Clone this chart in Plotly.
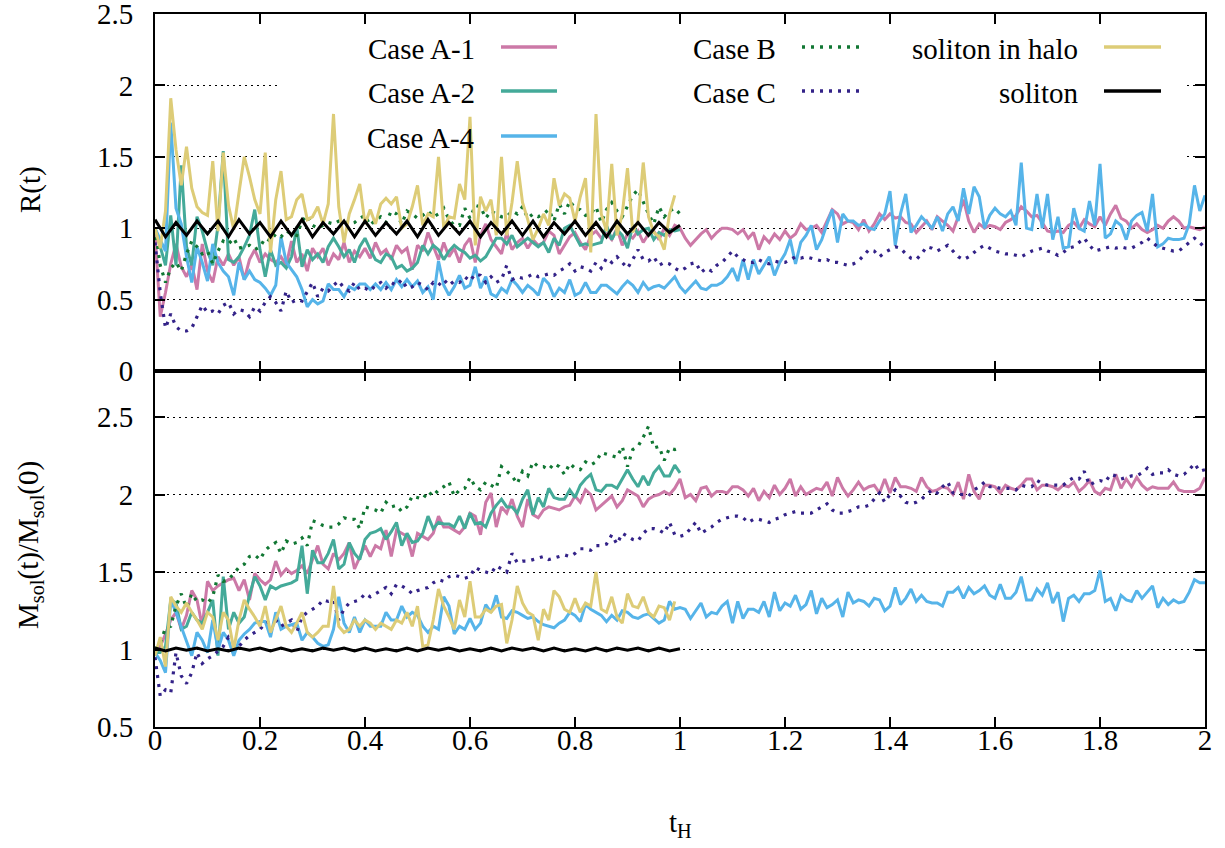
import plotly.graph_objects as go

# ---------------- data ----------------
STEP = 0.01          # sampling step of the simulation outputs
SOL_STEP = 0.02      # sampling step of the isolated soliton run

series_names = ["Case A-1", "Case A-2", "Case A-4", "Case B", "Case C",
                "soliton in halo", "soliton"]

# Top panel: R(t)
R_A1 = [0.97,0.38,0.55,0.75,0.89,0.73,0.66,0.75,0.57,0.89,
        0.70,0.62,0.80,0.74,0.82,0.74,0.80,0.64,0.78,0.85,
        0.76,0.82,0.78,0.76,0.80,0.74,0.91,0.76,0.82,0.70,
        0.86,0.80,0.86,0.74,0.82,0.78,0.90,0.76,0.84,0.80,
        0.86,0.79,0.90,0.82,0.85,0.78,0.88,0.83,0.86,0.71,
        0.88,0.84,0.97,0.87,0.78,0.90,0.80,0.86,0.76,0.88,
        0.93,0.76,0.95,1.03,0.92,0.87,0.82,0.97,0.85,0.90,
        0.93,0.86,0.92,0.88,0.90,0.98,0.95,0.82,0.88,0.94,
        0.97,0.90,0.85,0.95,0.98,0.93,0.96,0.92,1.00,0.88,
        0.96,0.93,0.98,0.90,0.96,0.98,0.92,1.00,0.95,1.02,
        1.00,0.93,0.88,0.92,0.96,0.99,0.93,0.97,1.00,1.00,
        0.99,0.96,0.99,0.93,0.97,0.85,0.94,0.90,0.96,0.92,
        0.98,0.93,0.96,1.03,0.99,1.00,1.02,0.97,1.05,1.13,
        1.10,1.03,1.05,1.04,0.99,1.06,0.98,1.03,1.10,1.06,
        1.10,1.07,1.08,1.04,1.03,0.97,1.01,1.05,0.99,1.08,
        1.05,1.02,0.98,1.08,1.20,1.05,0.97,1.03,1.00,1.02,
        1.01,0.99,1.04,1.06,1.09,1.15,1.12,1.08,1.09,1.04,
        0.98,0.97,0.98,0.97,1.02,1.04,1.00,1.06,1.03,1.01,
        1.08,1.02,1.10,1.16,1.07,1.05,1.00,1.03,0.99,0.97,
        0.99,1.02,1.00,1.05,1.08,1.05,1.00,1.01,1.00,0.99,
        1.01]
R_A2 = [1.00,0.87,0.74,1.09,0.74,1.44,0.87,0.74,1.08,0.98,
        0.84,0.74,1.02,1.54,0.78,0.76,0.80,0.87,0.95,1.13,
        0.85,0.66,0.85,0.74,0.76,0.72,0.80,1.01,0.73,0.85,
        0.78,0.82,0.76,0.87,0.93,0.87,0.80,0.85,0.76,0.87,
        0.93,0.85,0.78,0.76,0.82,0.80,0.72,0.74,0.70,0.72,
        0.76,0.88,0.82,0.88,0.85,0.78,0.84,0.88,0.85,0.83,
        0.79,0.81,0.77,0.80,0.87,0.93,0.93,0.89,0.95,0.87,
        0.90,0.93,0.90,0.87,0.90,0.83,0.93,0.88,1.00,1.02,
        0.95,0.88,0.89,0.88,0.89,0.90,1.02,0.92,0.99,0.95,
        0.86,1.02,0.96,0.99,1.00,0.92,0.97,0.95,0.99,0.98,
        0.99]
R_A4 = [1.00,0.92,0.84,1.74,1.14,1.03,0.80,0.62,0.87,0.76,
        0.63,0.89,0.76,0.70,0.66,0.53,0.76,0.64,0.70,0.64,
        0.62,0.58,0.53,0.60,0.94,0.76,0.71,0.66,0.57,0.45,
        0.50,0.47,0.49,0.61,0.57,0.57,0.52,0.59,0.57,0.61,
        0.61,0.57,0.61,0.57,0.62,0.57,0.64,0.59,0.64,0.59,
        0.63,0.55,0.59,0.50,0.77,0.60,0.53,0.59,0.67,0.58,
        0.60,0.73,0.58,0.66,0.54,0.52,0.58,0.55,0.64,0.60,
        0.55,0.60,0.57,0.53,0.65,0.61,0.52,0.58,0.55,0.64,
        0.53,0.55,0.62,0.55,0.55,0.60,0.60,0.57,0.54,0.59,
        0.63,0.60,0.55,0.62,0.57,0.59,0.60,0.58,0.62,0.66,
        0.59,0.55,0.59,0.63,0.58,0.57,0.60,0.60,0.62,0.66,
        0.72,0.63,0.78,0.64,0.78,0.68,0.74,0.80,0.67,0.76,
        0.82,0.92,0.75,0.90,0.95,1.02,0.85,0.92,1.03,1.13,
        0.90,1.10,1.05,1.05,1.02,1.03,1.00,0.99,1.05,1.10,
        1.26,0.88,1.10,1.24,0.97,1.02,1.08,1.04,1.00,1.08,
        0.98,1.10,1.15,1.05,1.28,1.10,1.29,1.22,1.00,1.09,
        1.14,1.10,1.08,1.12,1.02,1.46,1.00,0.99,1.24,1.00,
        1.24,0.92,1.08,0.86,0.87,1.14,1.00,0.98,1.19,1.02,
        1.45,0.93,0.96,1.05,1.02,0.92,1.05,1.09,1.11,0.98,
        1.24,0.87,0.89,0.93,0.92,0.92,0.93,1.03,1.30,1.12,
        1.23]
R_B = [1.00,0.74,0.62,0.72,0.76,0.70,0.82,0.91,0.87,0.82,
       0.84,0.75,0.84,0.91,0.89,0.93,0.86,0.87,0.88,0.85,
       0.87,0.93,0.91,0.96,0.94,0.98,0.96,0.95,1.05,1.09,
       1.02,1.00,1.02,1.04,1.03,1.05,1.05,1.03,1.04,1.07,
       1.09,1.02,1.06,1.08,1.04,1.12,1.10,1.03,1.12,1.10,
       1.07,1.09,1.12,1.08,1.10,1.14,1.06,1.02,1.02,1.14,
       1.07,1.16,1.15,1.07,1.12,1.10,1.08,1.08,1.12,1.10,
       1.15,1.07,1.10,1.08,1.10,1.13,1.05,1.17,1.10,1.19,
       1.14,1.13,1.09,1.10,1.15,1.04,1.13,1.18,1.12,1.08,
       1.15,1.23,1.27,1.18,1.10,1.03,1.15,1.08,1.12,1.14,
       1.10]
R_C = [0.90,0.55,0.30,0.40,0.31,0.28,0.28,0.30,0.38,0.46,
       0.41,0.42,0.40,0.46,0.48,0.40,0.43,0.42,0.38,0.45,
       0.42,0.48,0.52,0.48,0.42,0.56,0.48,0.50,0.49,0.55,
       0.62,0.52,0.58,0.56,0.60,0.63,0.58,0.56,0.62,0.57,
       0.58,0.56,0.60,0.62,0.58,0.62,0.60,0.64,0.58,0.59,
       0.62,0.60,0.57,0.62,0.60,0.64,0.60,0.63,0.62,0.66,
       0.63,0.68,0.67,0.62,0.66,0.62,0.64,0.74,0.64,0.66,
       0.65,0.66,0.68,0.66,0.67,0.68,0.67,0.70,0.72,0.75,
       0.70,0.73,0.72,0.70,0.76,0.72,0.79,0.76,0.80,0.76,
       0.72,0.78,0.85,0.78,0.77,0.80,0.74,0.76,0.75,0.72,
       0.70,0.72,0.75,0.76,0.69,0.72,0.70,0.74,0.76,0.80,
       0.84,0.80,0.78,0.76,0.76,0.78,0.76,0.75,0.77,0.76,
       0.76,0.78,0.80,0.79,0.80,0.79,0.78,0.77,0.78,0.76,
       0.76,0.75,0.74,0.75,0.77,0.81,0.85,0.84,0.80,0.83,
       0.85,0.87,0.86,0.82,0.79,0.78,0.82,0.87,0.86,0.84,
       0.86,0.88,0.84,0.80,0.78,0.80,0.83,0.86,0.88,0.86,
       0.84,0.83,0.82,0.82,0.81,0.80,0.82,0.84,0.85,0.86,
       0.84,0.83,0.81,0.83,0.86,0.87,0.90,0.93,0.88,0.84,
       0.85,0.86,0.87,0.86,0.87,0.86,0.86,0.88,0.90,0.93,
       0.90,0.87,0.86,0.85,0.84,0.84,0.87,0.90,0.93,0.90,
       0.86]
R_halo = [1.00,0.86,1.12,1.91,1.55,1.30,1.57,1.28,1.15,1.11,
          1.09,1.47,0.98,1.53,1.16,0.99,1.25,1.50,1.36,1.20,
          1.10,1.53,0.83,1.20,1.40,1.06,1.08,1.20,1.24,1.06,
          1.08,1.15,1.03,1.17,1.80,1.15,0.90,1.10,1.20,1.31,
          1.03,1.13,1.03,1.17,1.21,1.17,1.22,1.00,1.03,1.15,
          1.30,1.02,1.10,1.08,1.50,1.00,1.08,1.07,1.31,1.20,
          1.78,0.88,1.22,1.12,1.20,0.95,1.50,0.95,1.18,1.47,
          1.18,1.06,0.92,1.00,1.10,1.02,1.35,1.16,1.24,1.21,
          1.05,1.22,1.35,0.83,1.80,1.10,0.98,1.45,0.95,1.10,
          1.42,0.97,1.05,1.46,1.08,0.97,0.94,0.85,1.10,1.23]
R_sol = [1.06,0.94,1.04,0.95,1.05,0.96,1.05,0.94,1.06,0.96,
         1.04,0.94,1.05,0.95,1.06,0.94,1.04,0.96,1.05,0.94,
         1.05,0.95,1.04,0.96,1.05,0.94,1.06,0.95,1.04,0.96,
         1.05,0.94,1.04,0.96,1.05,0.95,1.05,0.94,1.04,0.96,
         1.05,0.95,1.04,0.94,1.05,0.96,1.04,0.95,1.04,0.97,
         1.02]

# Bottom panel: M_sol(t)/M_sol(0)
M_A1 = [0.96,1.02,1.10,1.19,1.24,1.13,1.22,1.38,1.32,1.15,
        1.44,1.38,1.41,1.43,1.45,1.46,1.38,1.45,1.32,1.49,
        1.45,1.42,1.45,1.57,1.48,1.52,1.49,1.51,1.54,1.49,
        1.58,1.67,1.55,1.52,1.62,1.58,1.62,1.69,1.52,1.60,
        1.67,1.60,1.67,1.65,1.77,1.60,1.77,1.75,1.73,1.60,
        1.75,1.73,1.71,1.75,1.86,1.79,1.79,1.77,1.75,1.79,
        1.88,1.86,1.74,1.95,2.01,1.79,1.92,1.88,1.97,1.86,
        1.79,1.97,1.87,1.85,1.90,1.92,1.91,1.90,1.92,1.93,
        1.99,1.95,2.03,2.00,1.90,1.93,1.96,1.99,1.92,1.96,
        2.03,2.01,1.99,1.92,1.97,1.99,2.00,2.02,2.00,2.04,
        2.10,1.98,2.00,1.96,2.04,2.05,1.99,2.02,2.02,2.01,
        2.05,2.05,2.03,1.99,2.04,1.96,2.02,1.98,2.06,2.00,
        2.04,2.10,1.99,2.05,2.00,2.02,2.04,2.03,2.08,1.99,
        2.11,2.04,1.99,2.03,2.08,2.03,2.05,2.06,2.01,2.10,
        2.01,2.11,2.05,2.05,2.04,2.02,2.11,2.05,2.02,2.03,
        2.05,2.04,2.00,2.08,1.97,2.13,2.02,1.97,2.06,2.06,
        2.05,2.01,2.06,2.04,2.03,2.06,2.10,2.10,2.03,2.06,
        2.06,2.05,2.03,2.06,2.05,2.08,2.02,2.05,2.09,2.02,
        2.00,2.04,2.03,2.13,2.04,2.10,2.05,2.11,2.06,2.03,
        2.05,2.04,2.04,2.04,2.08,2.03,2.02,2.02,2.02,2.04,
        2.11]
M_A2 = [0.98,0.98,1.02,1.32,1.30,1.13,1.15,1.24,1.19,1.17,
        1.24,1.32,0.96,1.47,1.13,1.24,1.17,1.21,1.35,1.47,
        1.41,1.32,1.41,1.39,1.41,1.42,1.43,1.45,1.67,1.36,
        1.64,1.56,1.56,1.62,1.71,1.52,1.55,1.69,1.62,1.58,
        1.71,1.75,1.76,1.78,1.71,1.76,1.82,1.67,1.75,1.69,
        1.70,1.75,1.86,1.78,1.82,1.81,1.81,1.79,1.86,1.78,
        1.88,1.81,1.82,1.79,1.88,1.93,1.97,1.92,1.92,1.88,
        1.97,2.03,1.87,1.98,1.92,2.04,1.98,1.97,1.97,2.03,
        1.98,2.06,2.10,2.13,2.03,2.02,2.06,2.06,2.04,2.10,
        2.16,2.10,2.05,2.12,2.06,2.14,2.18,2.12,2.12,2.19,
        2.14]
M_A4 = [0.98,0.93,0.85,1.32,1.24,1.15,1.06,0.96,1.11,1.06,
        0.98,1.19,1.00,1.11,1.06,0.96,1.06,1.10,1.13,1.17,
        1.18,1.18,1.08,1.24,1.13,1.15,1.16,1.17,1.06,1.11,
        1.08,1.04,1.02,1.03,1.13,1.34,1.17,1.11,1.21,1.11,
        1.19,1.15,1.15,1.15,1.24,1.19,1.19,1.28,1.21,1.24,
        1.22,1.15,1.11,1.15,1.13,1.34,1.28,1.10,1.15,1.13,
        1.20,1.13,1.17,1.29,1.24,1.35,1.21,1.20,1.25,1.24,
        1.22,1.20,1.21,1.18,1.16,1.15,1.14,1.17,1.19,1.24,
        1.22,1.18,1.29,1.26,1.24,1.22,1.18,1.22,1.19,1.25,
        1.24,1.21,1.20,1.22,1.23,1.20,1.17,1.19,1.31,1.26,
        1.27,1.26,1.20,1.25,1.30,1.21,1.24,1.23,1.28,1.31,
        1.17,1.31,1.20,1.26,1.26,1.24,1.31,1.21,1.37,1.25,
        1.30,1.28,1.35,1.26,1.29,1.38,1.23,1.33,1.27,1.29,
        1.32,1.21,1.37,1.30,1.32,1.31,1.28,1.33,1.32,1.25,
        1.28,1.40,1.29,1.33,1.39,1.31,1.35,1.31,1.30,1.30,
        1.28,1.37,1.37,1.40,1.33,1.40,1.36,1.38,1.41,1.35,
        1.33,1.42,1.33,1.33,1.37,1.47,1.32,1.32,1.39,1.35,
        1.43,1.30,1.37,1.18,1.33,1.35,1.31,1.36,1.36,1.38,
        1.51,1.31,1.33,1.25,1.35,1.32,1.31,1.38,1.33,1.37,
        1.41,1.27,1.33,1.29,1.32,1.30,1.31,1.37,1.45,1.43,
        1.43]
M_B = [1.00,1.04,1.14,1.15,1.28,1.36,1.27,1.36,1.31,1.32,
       1.30,1.34,1.48,1.44,1.45,1.49,1.53,1.55,1.60,1.61,
       1.58,1.64,1.67,1.69,1.62,1.70,1.68,1.69,1.72,1.67,
       1.83,1.82,1.80,1.79,1.79,1.81,1.85,1.84,1.84,1.78,
       1.92,1.91,1.90,1.88,1.95,1.92,1.93,1.89,1.92,1.99,
       1.98,1.97,2.02,1.99,2.03,2.05,2.08,1.99,2.03,2.04,
       2.11,2.05,2.03,2.08,2.06,2.04,2.18,2.15,2.12,2.07,
       2.15,2.12,2.21,2.18,2.18,2.16,2.20,2.18,2.13,2.20,
       2.17,2.16,2.21,2.19,2.21,2.27,2.26,2.25,2.24,2.31,
       2.18,2.29,2.31,2.37,2.44,2.30,2.31,2.22,2.30,2.29,
       2.30]
M_C = [0.95,0.70,0.74,0.72,0.98,0.83,0.78,0.85,0.98,0.91,
       0.94,0.96,0.99,1.02,1.08,1.04,1.02,1.06,1.09,1.11,
       1.13,1.17,1.18,1.19,1.15,1.17,1.19,1.11,1.21,1.24,
       1.26,1.28,1.32,1.31,1.32,1.19,1.26,1.30,1.31,1.32,
       1.36,1.34,1.36,1.38,1.40,1.36,1.42,1.41,1.39,1.36,
       1.38,1.39,1.40,1.43,1.45,1.44,1.47,1.48,1.47,1.46,
       1.47,1.53,1.51,1.50,1.49,1.54,1.52,1.50,1.62,1.56,
       1.57,1.57,1.58,1.59,1.60,1.58,1.59,1.60,1.61,1.60,
       1.62,1.65,1.65,1.64,1.67,1.67,1.68,1.74,1.68,1.75,
       1.73,1.71,1.70,1.75,1.78,1.78,1.77,1.75,1.82,1.74,
       1.73,1.74,1.78,1.82,1.75,1.77,1.79,1.82,1.84,1.85,
       1.86,1.86,1.85,1.82,1.84,1.84,1.83,1.82,1.84,1.85,
       1.87,1.88,1.89,1.88,1.88,1.88,1.90,1.92,1.94,1.90,
       1.88,1.88,1.89,1.90,1.92,1.92,1.93,1.97,2.01,1.95,
       2.00,2.03,1.99,1.95,1.94,1.95,1.97,2.00,2.03,2.01,
       2.05,2.08,2.01,2.00,2.00,1.99,2.03,2.05,2.08,2.05,
       2.05,2.04,2.04,2.04,2.03,2.06,2.05,2.05,2.09,2.07,
       2.06,2.06,2.06,2.06,2.09,2.11,2.10,2.15,2.06,2.08,
       2.09,2.08,2.13,2.12,2.10,2.11,2.12,2.12,2.14,2.17,
       2.13,2.14,2.14,2.16,2.13,2.12,2.13,2.16,2.20,2.15,
       2.16]
M_halo = [0.96,1.08,0.89,1.34,1.28,1.24,1.30,1.24,1.19,1.13,
          1.24,1.21,1.06,1.24,1.19,1.00,1.19,1.32,1.26,1.21,
          1.15,1.28,1.11,1.19,1.28,1.15,1.11,1.17,1.24,1.11,
          1.08,1.11,1.15,1.15,1.41,1.15,1.11,1.13,1.19,1.15,
          1.19,1.17,1.13,1.17,1.15,1.13,1.19,1.17,1.24,1.15,
          1.28,1.02,1.03,1.19,1.39,1.28,1.21,1.13,1.32,1.21,
          1.44,1.21,1.21,1.26,1.24,1.28,1.29,1.04,1.19,1.41,
          1.30,1.24,1.22,1.06,1.26,1.19,1.38,1.34,1.26,1.24,
          1.33,1.24,1.30,1.28,1.50,1.26,1.24,1.34,1.21,1.17,
          1.36,1.28,1.27,1.34,1.24,1.21,1.28,1.27,1.19,1.31]
M_sol = [1.01,0.99,1.01,0.995,1.01,0.99,1.005,0.99,1.01,0.995,
         1.01,0.99,1.01,0.99,1.005,0.99,1.01,0.995,1.01,0.99,
         1.01,0.99,1.005,0.99,1.01,0.99,1.01,0.995,1.01,0.99,
         1.005,0.99,1.01,0.99,1.01,0.995,1.01,0.99,1.01,0.99,
         1.005,0.99,1.01,0.99,1.01,0.995,1.01,0.99,1.01,0.99,
         1.005]

colors = ["#CC79A7", "#44AA99", "#56B4E9", "#117733", "#332288",
          "#DDCC77", "#000000"]
dashes = ["solid", "solid", "solid", "3px,6px", "3px,6px", "solid", "solid"]

R_series = [R_A1, R_A2, R_A4, R_B, R_C, R_halo, R_sol]
M_series = [M_A1, M_A2, M_A4, M_B, M_C, M_halo, M_sol]
steps = [STEP, STEP, STEP, STEP, STEP, STEP, SOL_STEP]

FONT = "Liberation Serif, Times New Roman, serif"
FS = 29

fig = go.Figure()
for name, vals, c, d, st in zip(series_names, M_series, colors, dashes, steps):
    fig.add_trace(go.Scatter(x=[round(i * st, 3) for i in range(len(vals))], y=vals,
                             mode="lines", name=name, showlegend=False,
                             line=dict(color=c, width=3 if d == "solid" else 3.2, dash=d),
                             xaxis="x", yaxis="y"))
for name, vals, c, d, st in zip(series_names, R_series, colors, dashes, steps):
    fig.add_trace(go.Scatter(x=[round(i * st, 3) for i in range(len(vals))], y=vals,
                             mode="lines", name=name, showlegend=False,
                             line=dict(color=c, width=3 if d == "solid" else 3.2, dash=d),
                             xaxis="x2", yaxis="y2"))

W, H = 1225, 848
L, R, T, B = 155, 20, 14, 121
ph = H - T - B
split = (727 - 371) / ph

axis_common = dict(showline=True, linecolor="black", linewidth=2, mirror="ticks",
                   ticks="inside", ticklen=10, tickwidth=1.5, tickcolor="black",
                   zeroline=False, ticklabeloverflow="allow", automargin=False,
                   tickfont=dict(family=FONT, size=FS, color="black"))

fig.update_layout(
    width=W, height=H,
    margin=dict(l=L, r=R, t=T, b=B, autoexpand=False),
    paper_bgcolor="white", plot_bgcolor="white",
    font=dict(family=FONT, size=FS, color="black"),
    showlegend=False,
    xaxis=dict(domain=[0, 1], anchor="y", range=[0, 2], dtick=0.2, tick0=0,
               showgrid=False, ticklabelstandoff=-14, **axis_common),
    xaxis2=dict(domain=[0, 1], anchor="y2", range=[0, 2], dtick=0.2, tick0=0,
                showgrid=False, showticklabels=False, matches="x", **axis_common),
    yaxis=dict(domain=[0, split], anchor="x", range=[0.5, 0.5 + 356 / 155],
               tickvals=[0.5, 1, 1.5, 2, 2.5], showgrid=True, gridcolor="black",
               gridwidth=1, griddash="2px,4px", ticklabelstandoff=14, **axis_common),
    yaxis2=dict(domain=[split, 1], anchor="x2", range=[0, 2.5],
                tickvals=[0, 0.5, 1, 1.5, 2, 2.5], showgrid=True, gridcolor="black",
                gridwidth=1, griddash="2px,4px", ticklabelstandoff=14, **axis_common),
)

def px(X):
    return (X - L) / (W - L - R)

def py(Y):
    return (H - B - Y) / ph

shapes = []
# opaque key box (hides the grid, not the data)
shapes.append(dict(type="rect", xref="x2", yref="y2", x0=(277 - L) / 525, x1=(1183 - L) / 525,
                   y0=(371 - 163) / 142.8, y1=2.5, fillcolor="white",
                   line=dict(width=0), layer="between"))

annotations = []
key_rows = [47, 91, 136]
key_cols = [(477, 501, 557), (778, 802, 859), (1080, 1104, 1161)]
key_layout = [(0, 0), (0, 1), (0, 2), (1, 0), (1, 1), (2, 0), (2, 1)]
for (ci, ri), name, c, d in zip(key_layout, series_names, colors, dashes):
    tx, lx0, lx1 = key_cols[ci]
    yy = key_rows[ri]
    annotations.append(dict(text=name, x=px(tx), y=py(yy + 2), xref="paper", yref="paper",
                            xanchor="right", yanchor="middle", showarrow=False,
                            font=dict(family=FONT, size=FS, color="black")))
    shapes.append(dict(type="line", xref="paper", yref="paper",
                       x0=px(lx0), x1=px(lx1), y0=py(yy), y1=py(yy),
                       line=dict(color=c, width=3.5, dash=d)))

# axis titles
annotations.append(dict(text="R(t)", x=px(30), y=py(190), xref="paper", yref="paper",
                        textangle=-90, xanchor="center", yanchor="middle", showarrow=False,
                        font=dict(family=FONT, size=FS, color="black")))
annotations.append(dict(text="M<sub>sol</sub>(t)/M<sub>sol</sub>(0)", x=px(30), y=py(545),
                        xref="paper", yref="paper", textangle=-90,
                        xanchor="center", yanchor="middle", showarrow=False,
                        font=dict(family=FONT, size=FS, color="black")))
annotations.append(dict(text="t<sub>H</sub>", x=px(680), y=py(824), xref="paper", yref="paper",
                        xanchor="center", yanchor="middle", showarrow=False,
                        font=dict(family=FONT, size=FS, color="black")))

fig.update_layout(shapes=shapes, annotations=annotations)
fig.write_html("out.html", config={"displayModeBar": False},
               post_script="document.body.style.margin='0';")
